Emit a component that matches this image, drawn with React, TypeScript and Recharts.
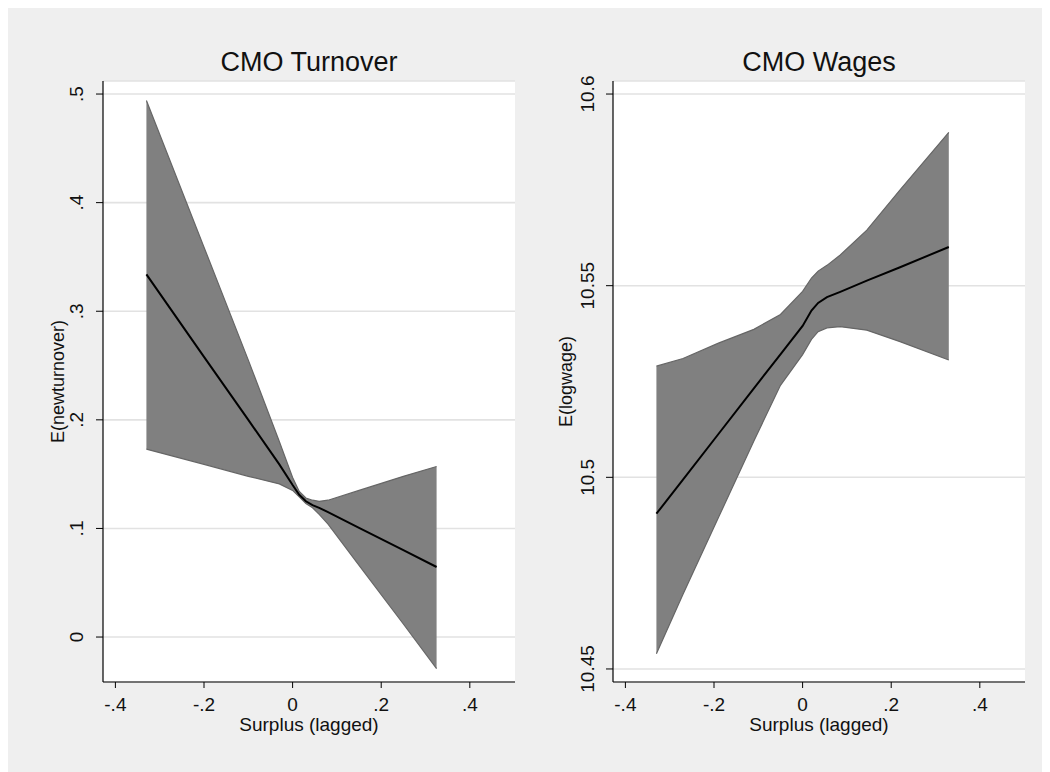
import { ComposedChart, Area, Line, XAxis, YAxis, CartesianGrid } from "recharts";

// CMO Turnover panel
const turnoverX = [-0.33, -0.2, -0.1, -0.03, 0, 0.015, 0.03, 0.045, 0.06, 0.08, 0.15, 0.25, 0.325];
const turnoverFit = [0.334, 0.258, 0.2, 0.159, 0.14, 0.131, 0.125, 0.1215, 0.119, 0.115, 0.1005, 0.08, 0.0645];
const turnoverLow = [0.173, 0.159, 0.148, 0.141, 0.135, 0.129, 0.123, 0.119, 0.113, 0.104, 0.066, 0.012, -0.029];
const turnoverHigh = [0.494, 0.359, 0.255, 0.18, 0.147, 0.134, 0.128, 0.126, 0.125, 0.126, 0.135, 0.148, 0.157];
const turnoverTicks = [0, 0.1, 0.2, 0.3, 0.4, 0.5];
const turnoverTickLabels = ["0", ".1", ".2", ".3", ".4", ".5"];

// CMO Wages panel
const wageX = [-0.33, -0.27, -0.19, -0.11, -0.05, 0, 0.02, 0.035, 0.055, 0.085, 0.145, 0.22, 0.33];
const wageFit = [10.4905, 10.4994, 10.5113, 10.5232, 10.5321, 10.5395, 10.5435, 10.5455, 10.547, 10.5484, 10.5513, 10.5548, 10.5601];
const wageLow = [10.454, 10.4695, 10.4895, 10.5095, 10.524, 10.532, 10.536, 10.538, 10.539, 10.5393, 10.5384, 10.5354, 10.5306];
const wageHigh = [10.529, 10.531, 10.535, 10.5386, 10.5425, 10.5485, 10.552, 10.5538, 10.5553, 10.558, 10.5645, 10.575, 10.59];
const wageTicks = [10.45, 10.5, 10.55, 10.6];
const wageTickLabels = ["10.45", "10.5", "10.55", "10.6"];

const xTicks = [-0.4, -0.2, 0, 0.2, 0.4];
const xTickLabels = ["-.4", "-.2", "0", ".2", ".4"];

const FONT = '"Liberation Sans", Arial, Helvetica, sans-serif';
const TEXT = "#111";
const H = 764;
const PLOT_TOP = 73;
const PLOT_BOTTOM = 674;

const pickLabel = (ticks: number[], labels: string[], v: number) => {
  let best = 0;
  ticks.forEach((t, i) => {
    if (Math.abs(t - v) < Math.abs(ticks[best] - v)) best = i;
  });
  return labels[best];
};

const makeYTick = (ticks: number[], labels: string[], offset: number) => (props: any) => {
  const { x, y, payload } = props;
  const cx = x - offset;
  return (
    <text
      x={cx}
      y={y}
      transform={`rotate(-90 ${cx} ${y})`}
      textAnchor="middle"
      dominantBaseline="central"
      fill={TEXT}
      fontSize={19}
      fontFamily={FONT}
    >
      {pickLabel(ticks, labels, payload.value)}
    </text>
  );
};

interface IPanel {
  left: number;
  width: number;
  plotLeft: number;
  plotRight: number;
  xs: number[];
  fit: number[];
  low: number[];
  high: number[];
  yDomain: [number, number];
  yTicks: number[];
  yLabels: string[];
  tickOffset: number;
  title: string;
  yTitle: string;
  yTitleX: number;
}

const Panel = (p: IPanel) => {
  const data = p.xs.map((x, i) => ({ x, band: [p.low[i], p.high[i]], fit: p.fit[i] }));
  const cx = (p.plotLeft + p.plotRight) / 2;
  const cy = (PLOT_TOP + PLOT_BOTTOM) / 2;
  return (
    <div style={{ position: "absolute", left: p.left, top: 0, width: p.width, height: H }}>
      <ComposedChart
        width={p.width}
        height={H}
        data={data}
        margin={{ top: PLOT_TOP, right: p.width - p.plotRight, bottom: H - PLOT_BOTTOM - 40, left: p.plotLeft - 40 }}
      >
        <CartesianGrid horizontal vertical={false} stroke="#e2e2e2" strokeWidth={1.6} fill="#ffffff" />
        <Area
          type="linear"
          dataKey="band"
          fill="#808080"
          fillOpacity={1}
          stroke="#666666"
          strokeWidth={1.2}
          isAnimationActive={false}
          dot={false}
          activeDot={false}
        />
        <Line
          type="linear"
          dataKey="fit"
          stroke="#000"
          strokeWidth={2}
          dot={false}
          activeDot={false}
          isAnimationActive={false}
        />
        <XAxis
          dataKey="x"
          type="number"
          domain={[-0.428, 0.502]}
          allowDataOverflow
          ticks={xTicks}
          height={40}
          tickSize={6}
          tickMargin={10}
          axisLine={{ stroke: "#000", strokeWidth: 1.2 }}
          tickLine={{ stroke: "#000" }}
          tick={{ fill: TEXT, fontSize: 19, fontFamily: FONT }}
          tickFormatter={(v: number) => pickLabel(xTicks, xTickLabels, v)}
        />
        <YAxis
          type="number"
          domain={p.yDomain}
          allowDataOverflow
          ticks={p.yTicks}
          width={40}
          tickSize={7}
          tickMargin={0}
          axisLine={{ stroke: "#000", strokeWidth: 1.2 }}
          tickLine={{ stroke: "#000" }}
          tick={makeYTick(p.yTicks, p.yLabels, p.tickOffset)}
        />
      </ComposedChart>
      <svg
        width={p.width}
        height={H}
        style={{ position: "absolute", left: 0, top: 0, pointerEvents: "none" }}
        fontFamily={FONT}
      >
        <text x={cx} y={63} textAnchor="middle" fontSize={27} fill={TEXT}>
          {p.title}
        </text>
        <text x={cx} y={723} textAnchor="middle" fontSize={19} fill={TEXT}>
          Surplus (lagged)
        </text>
        <text
          x={p.yTitleX}
          y={cy}
          transform={`rotate(-90 ${p.yTitleX} ${cy})`}
          textAnchor="middle"
          dominantBaseline="central"
          fontSize={18}
          fill={TEXT}
        >
          {p.yTitle}
        </text>
      </svg>
    </div>
  );
};

export default function App() {
  return (
    <div style={{ position: "relative", width: 1042, height: H, background: "#efefef", overflow: "hidden" }}>
      <Panel
        left={0}
        width={520}
        plotLeft={95}
        plotRight={507}
        xs={turnoverX}
        fit={turnoverFit}
        low={turnoverLow}
        high={turnoverHigh}
        yDomain={[-0.0414, 0.512]}
        yTicks={turnoverTicks}
        yLabels={turnoverTickLabels}
        tickOffset={19}
        title="CMO Turnover"
        yTitle="E(newturnover)"
        yTitleX={50}
      />
      <Panel
        left={520}
        width={522}
        plotLeft={85}
        plotRight={497}
        xs={wageX}
        fit={wageFit}
        low={wageLow}
        high={wageHigh}
        yDomain={[10.4466, 10.6034]}
        yTicks={wageTicks}
        yLabels={wageTickLabels}
        tickOffset={18}
        title="CMO Wages"
        yTitle="E(logwage)"
        yTitleX={38}
      />
    </div>
  );
}
